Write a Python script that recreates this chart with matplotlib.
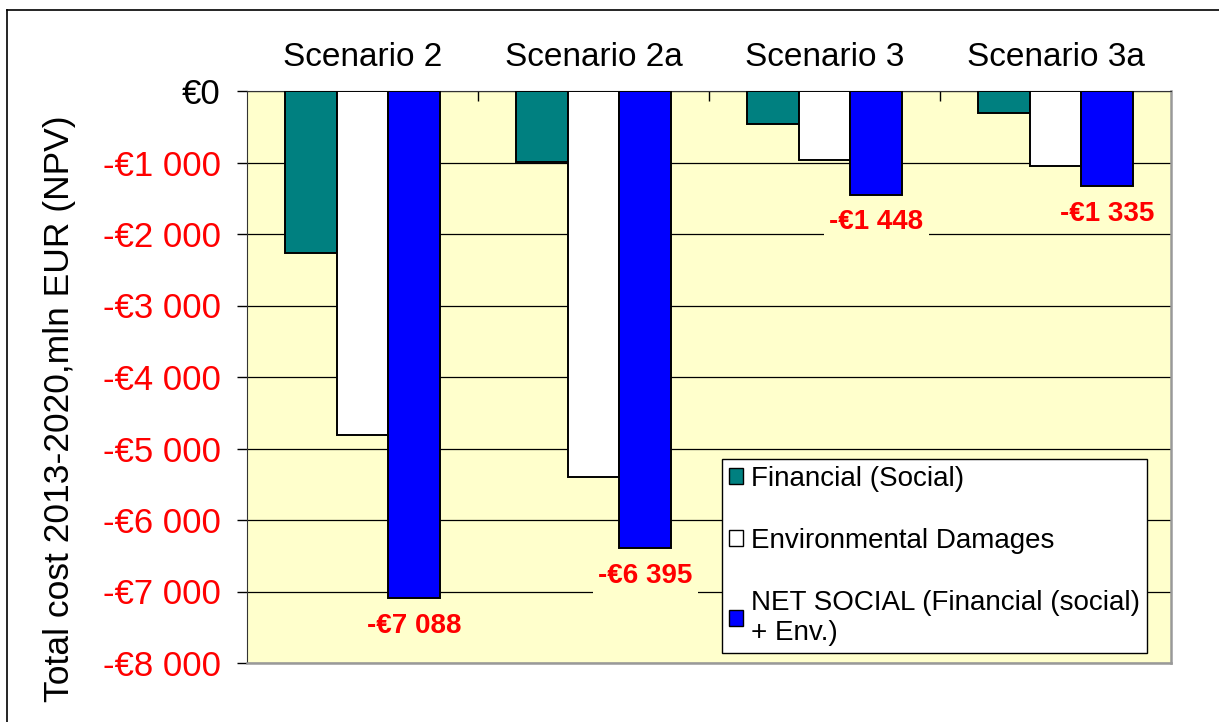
import numpy as np
import matplotlib.pyplot as plt
from matplotlib.patches import Patch
from matplotlib.lines import Line2D

plt.rcParams['font.family'] = ['Liberation Sans', 'DejaVu Sans']

scenarios = ['Scenario 2', 'Scenario 2a', 'Scenario 3', 'Scenario 3a']
financial = [-2265, -998, -466, -303]
environmental = [-4811, -5399, -960, -1053]
net_social = [-7088, -6395, -1448, -1335]
series_names = ['Financial (Social)', 'Environmental Damages',
                'NET SOCIAL (Financial (social)\n+ Env.)']
yticks = [0, -1000, -2000, -3000, -4000, -5000, -6000, -7000, -8000]


def euro(v):
    s = '{:,}'.format(abs(int(v))).replace(',', ' ')
    return ('-€' if v < 0 else '€') + s


fig = plt.figure(figsize=(12.19, 7.22), dpi=100)
ax = fig.add_axes([247 / 1219, 1 - 663 / 722, 924 / 1219, 572 / 722])
ax.set_facecolor('#FFFFCC')

x = np.arange(len(scenarios))
w = 0.224
cols = ['#008080', '#FFFFFF', '#0000FF']
for i, (vals, c) in enumerate(zip([financial, environmental, net_social], cols)):
    ax.bar(x + (i - 1) * w, vals, w, color=c, edgecolor='black', lw=1.4, zorder=3)

ax.set_xlim(-0.5, 3.5)
ax.set_ylim(-8000, 0)
ax.set_yticks(yticks)
ax.set_yticklabels([euro(v) for v in yticks], fontsize=25)
for lab, v in zip(ax.get_yticklabels(), yticks):
    lab.set_color('red' if v < 0 else 'black')
ax.tick_params(axis='y', direction='out', length=7, width=1, pad=12)
ax.grid(axis='y', color='black', lw=0.9, zorder=1)

ax.xaxis.tick_top()
ax.set_xticks(x)
ax.set_xticklabels(scenarios, fontsize=24)
ax.tick_params(axis='x', which='major', length=0, pad=13)
ax.set_xticks(x[:-1] + 0.5, minor=True)
ax.tick_params(axis='x', which='minor', direction='in', length=7, width=1,
               top=True, bottom=False)

ax.spines['top'].set_color('#333333')
ax.spines['left'].set_color('#333333')
ax.spines['bottom'].set_color('#999999')
ax.spines['right'].set_color('#999999')
ax.spines['bottom'].set_linewidth(1.8)
ax.spines['right'].set_linewidth(1.8)

# data labels under the net social bars
for xi, v in zip(x, net_social):
    ax.annotate(euro(v), (xi + w, v), xytext=(0, -20), textcoords='offset points',
                ha='center', va='center', color='red', fontsize=20,
                fontweight='bold', zorder=4,
                bbox=dict(boxstyle='square,pad=0.2', fc='#FFFFCC', ec='none'))

handles = [Patch(facecolor=c, edgecolor='black', lw=1) for c in cols]
leg = ax.legend(handles, series_names, loc='upper left',
                bbox_to_anchor=(722 / 1219, 1 - 459 / 722),
                bbox_transform=fig.transFigure, fontsize=20, frameon=True,
                fancybox=False, shadow=False, framealpha=1, edgecolor='black',
                handlelength=0.5, handleheight=0.5, handletextpad=0.3,
                labelspacing=1.3, borderpad=0.25, borderaxespad=0)
leg.get_frame().set_linewidth(1)
leg.set_zorder(5)

fig.text(0.049, 1 - 702 / 722, 'Total cost 2013-2020,mln EUR (NPV)',
         rotation=90, fontsize=25.5, ha='center', va='bottom')

# outer chart frame
fig.add_artist(Line2D([7 / 1219, 1], [1 - 10 / 722, 1 - 10 / 722],
                      transform=fig.transFigure, color='black', lw=1.2))
fig.add_artist(Line2D([7 / 1219, 7 / 1219], [0, 1 - 10 / 722],
                      transform=fig.transFigure, color='black', lw=1.2))

fig.savefig('out.png', dpi=100)
